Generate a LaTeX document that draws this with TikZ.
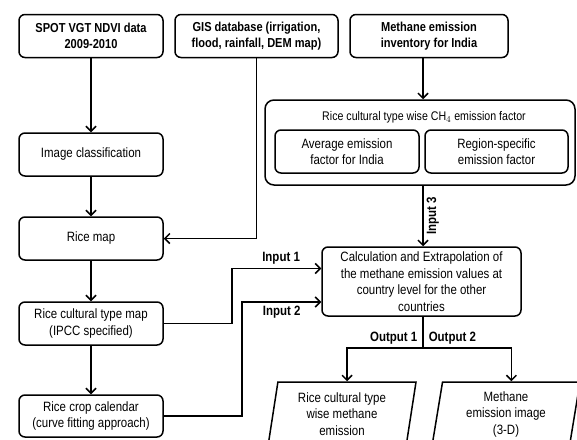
\documentclass[tikz,border=0pt]{standalone}
\usepackage{fontspec}
\setmainfont{Liberation Sans}[FakeStretch=0.85]
\usetikzlibrary{arrows.meta,positioning,shapes.geometric}

\begin{document}
\begin{tikzpicture}[x=1pt, y=-1pt, >={Straight Barb[length=5pt,width=10pt]},
  box/.style={draw, line width=1.5pt, rounded corners=6pt, align=center,
    inner sep=2pt, minimum width=144pt, minimum height=43pt,
    font=\fontsize{13.5}{16.5}\selectfont},
  head/.style={box, font=\fontsize{13}{16.5}\selectfont\bfseries},
  result/.style={draw, line width=1.5pt, trapezium, trapezium left angle=77,
    trapezium right angle=103, trapezium stretches body, align=center,
    minimum width=148pt, minimum height=64pt, inner sep=0pt,
    font=\fontsize{13.5}{16.5}\selectfont},
  lbl/.style={font=\fontsize{13.5}{15}\selectfont\bfseries, inner sep=5pt},
  link/.style={line width=1.5pt}]
  \path[use as bounding box, clip] (0,0) rectangle (577,439);

  % input data
  \node[head] (spot) at (91,36) {SPOT VGT NDVI data\\2009-2010};
  \node[head, minimum width=163pt] (gis) at (256.5,36)
    {GIS database (irrigation,\\flood, rainfall, DEM map)};
  \node[head, minimum width=158pt] (inv) at (429,36)
    {Methane emission\\inventory for India};

  % left column
  \node[box] (cls) at (91,154.5) {Image classification};
  \node[box] (rice) at (91,238.5) {Rice map};
  \node[box] (ctype) at (91,323.5) {Rice cultural type map\\(IPCC specified)};
  \node[box, minimum height=42pt] (cal) at (91,416)
    {Rice crop calendar\\(curve fitting approach)};

  % emission factors
  \node[box, minimum width=310pt, minimum height=85pt, rounded corners=9pt]
    (ef) at (420,142.5) {};
  \node[font=\fontsize{12.5}{14}\selectfont] (eftitle) at (424,117)
    {Rice cultural type wise CH$_4$ emission factor};
  \node[box] (avg) at (347,151.5) {Average emission\\factor for India};
  \node[box, minimum width=143pt] (reg) at (496.5,151.5)
    {Region-specific\\emission factor};

  \node[box, minimum width=199pt, minimum height=69pt] (calc) at (421.5,281.5)
    {Calculation and Extrapolation of\\the methane emission values at\\country level for the other\\countries};

  % outputs
  \node[result] (out1) at (342,414) {Rice cultural type\\wise methane\\emission};
  \node[result] (out2) at (506,414) {Methane\\emission image\\(3-D)};

  % connectors
  \draw[link, ->] (spot) -- (cls);
  \draw[link, ->] (cls) -- (rice);
  \draw[link, ->] (rice) -- (ctype);
  \draw[link, ->] (ctype) -- (cal);
  \draw[link, ->] (gis.south) |- (rice.east);
  \coordinate (invb) at (423,58);
  \draw[link, ->] (invb) -- (invb |- ef.north);
  \coordinate (efb) at (423,185);
  \draw[link, ->] (efb) -- node[lbl, rotate=90, anchor=north, inner sep=3pt] {Input 3} (efb |- calc.north);
  \draw[link, ->] (ctype.east) -| (232,268.5) -- node[lbl, above, pos=0.55, inner sep=3pt] {Input 1} (calc.west |- 0,268.5);
  \draw[link, ->] (cal.east) -| (242,302) -- node[lbl, below, pos=0.5, inner sep=3pt] {Input 2} (calc.west |- 0,302);
  \coordinate (split) at (423,348);
  \draw[link] (calc.south -| split) -- node[lbl, left, pos=0.68] {Output 1} node[lbl, right, pos=0.68] {Output 2} (split);
  \draw[link, ->] (split) -| (out1.top side);
  \draw[link, ->] (split) -| (out2.top side);
\end{tikzpicture}
\end{document}
